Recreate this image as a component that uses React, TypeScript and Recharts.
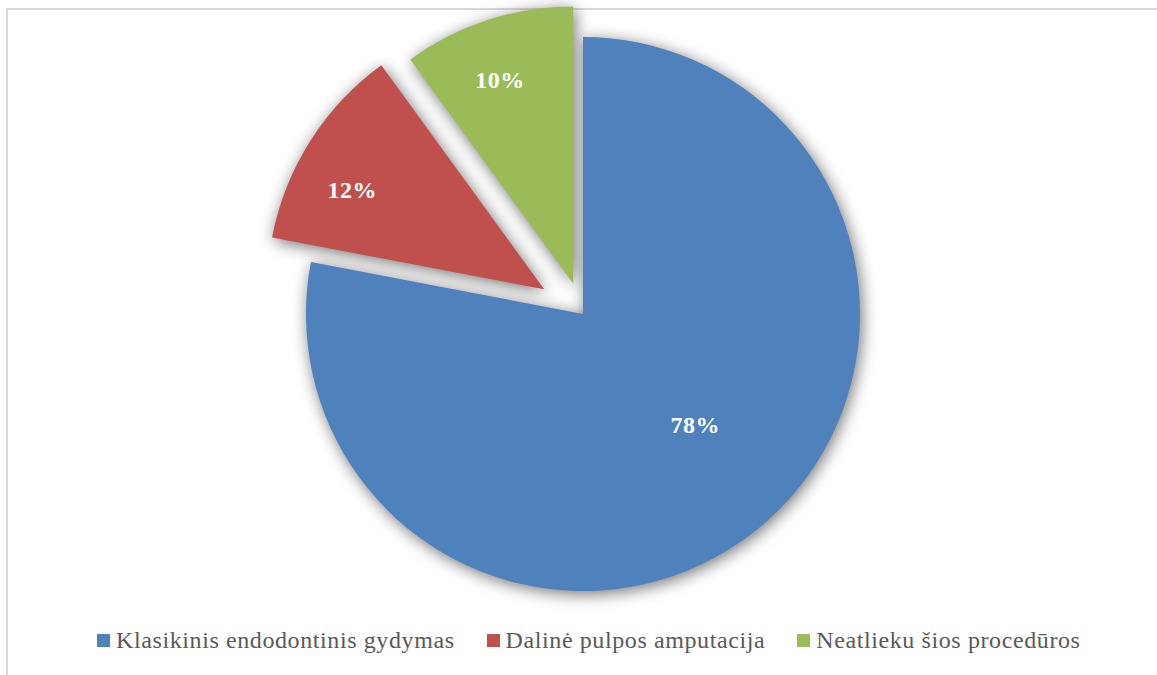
import { Legend, Pie, PieChart, Sector } from "recharts";

const categories = [
  "Klasikinis endodontinis gydymas",
  "Dalinė pulpos amputacija",
  "Neatlieku šios procedūros",
];
const shares = [78, 12, 10];
const colors = ["#4F81BD", "#C0504D", "#9BBB59"];

const data = categories.map((name, i) => ({ name, value: shares[i], fill: colors[i] }));

const RAD = Math.PI / 180;
// how far each slice is pulled out of the pie, px
const EXPLODE = [0, 46, 32];
// label placement: fraction of radius + small angle tweak (Excel "best fit")
const LABEL_AT = [
  { r: 0.57, da: 5.7 },
  { r: 0.78, da: 5 },
  { r: 0.78, da: 1.8 },
];

function shift(i: number, midAngle: number) {
  const d = EXPLODE[i] ?? 0;
  return { dx: d * Math.cos(-midAngle * RAD), dy: d * Math.sin(-midAngle * RAD) };
}

function indexOf(props: any) {
  const n = props.name ?? props.payload?.name;
  const i = categories.indexOf(n);
  return i >= 0 ? i : props.index ?? 0;
}

const Slice = (props: any) => {
  const i = indexOf(props);
  const { dx, dy } = shift(i, props.midAngle);
  return (
    <Sector
      cx={props.cx + dx}
      cy={props.cy + dy}
      innerRadius={0}
      outerRadius={props.outerRadius}
      startAngle={props.startAngle}
      endAngle={props.endAngle}
      fill={props.fill}
      stroke="none"
    />
  );
};

const ShadowSlice = (props: any) => {
  const i = indexOf(props);
  const { dx, dy } = shift(i, props.midAngle);
  return (
    <Sector
      cx={props.cx + dx + 2}
      cy={props.cy + dy + 3}
      innerRadius={0}
      outerRadius={props.outerRadius}
      startAngle={props.startAngle}
      endAngle={props.endAngle}
      fill="#000"
      fillOpacity={0.55}
      stroke="none"
      filter="url(#pieBlur)"
    />
  );
};

const renderLabel = (props: any) => {
  const i = indexOf(props);
  const { dx, dy } = shift(i, props.midAngle);
  const at = LABEL_AT[i];
  const a = (props.midAngle + at.da) * RAD;
  const r = props.outerRadius * at.r;
  const x = props.cx + dx + r * Math.cos(-a);
  const y = props.cy + dy + r * Math.sin(-a);
  return (
    <text
      x={x}
      y={y}
      fill="#fff"
      textAnchor="middle"
      dominantBaseline="central"
      fontFamily="'Liberation Serif', serif"
      fontWeight="bold"
      fontSize={24}
      letterSpacing={0.5}
    >
      {`${Math.round(props.percent * 100)}%`}
    </text>
  );
};

const LegendContent = () => (
  <div style={{ display: "flex", alignItems: "center", gap: 32, whiteSpace: "nowrap" }}>
    {categories.map((name, i) => (
      <div key={name} style={{ display: "flex", alignItems: "center" }}>
        <span style={{ width: 13, height: 13, background: colors[i], marginRight: 6, display: "inline-block" }} />
        <span
          style={{
            fontFamily: "'Liberation Serif', serif",
            fontSize: 24,
            letterSpacing: 0.6,
            color: "#595959",
          }}
        >
          {name}
        </span>
      </div>
    ))}
  </div>
);

export default function App() {
  return (
    <div style={{ position: "relative", width: 1157, height: 675, overflow: "hidden", background: "#fff" }}>
      <style>{`body{margin:0}`}</style>
      <svg width={0} height={0} style={{ position: "absolute" }}>
        <defs>
          <filter id="pieBlur" x="-30%" y="-30%" width="160%" height="160%">
            <feGaussianBlur stdDeviation={8} />
          </filter>
        </defs>
      </svg>
      <div
        style={{
          position: "absolute",
          left: 6,
          top: 8,
          width: 1200,
          height: 700,
          borderTop: "2px solid #d9d9d9",
          borderLeft: "2px solid #d9d9d9",
        }}
      />
      <PieChart width={1157} height={675} margin={{ top: 0, right: 0, bottom: 0, left: 0 }}>
        <Pie
          data={data}
          dataKey="value"
          nameKey="name"
          cx={583}
          cy={314}
          outerRadius={277}
          startAngle={90}
          endAngle={-270}
          stroke="none"
          legendType="none"
          shape={ShadowSlice}
          activeShape={ShadowSlice}
          inactiveShape={ShadowSlice}
          isAnimationActive={false}
        />
        <Pie
          data={data}
          dataKey="value"
          nameKey="name"
          cx={583}
          cy={314}
          outerRadius={277}
          startAngle={90}
          endAngle={-270}
          stroke="none"
          shape={Slice}
          activeShape={Slice}
          inactiveShape={Slice}
          label={renderLabel}
          labelLine={false}
          isAnimationActive={false}
        />
        <Legend
          content={<LegendContent />}
          wrapperStyle={{ position: "absolute", top: 627, left: 97, width: "auto" }}
        />
      </PieChart>
    </div>
  );
}
